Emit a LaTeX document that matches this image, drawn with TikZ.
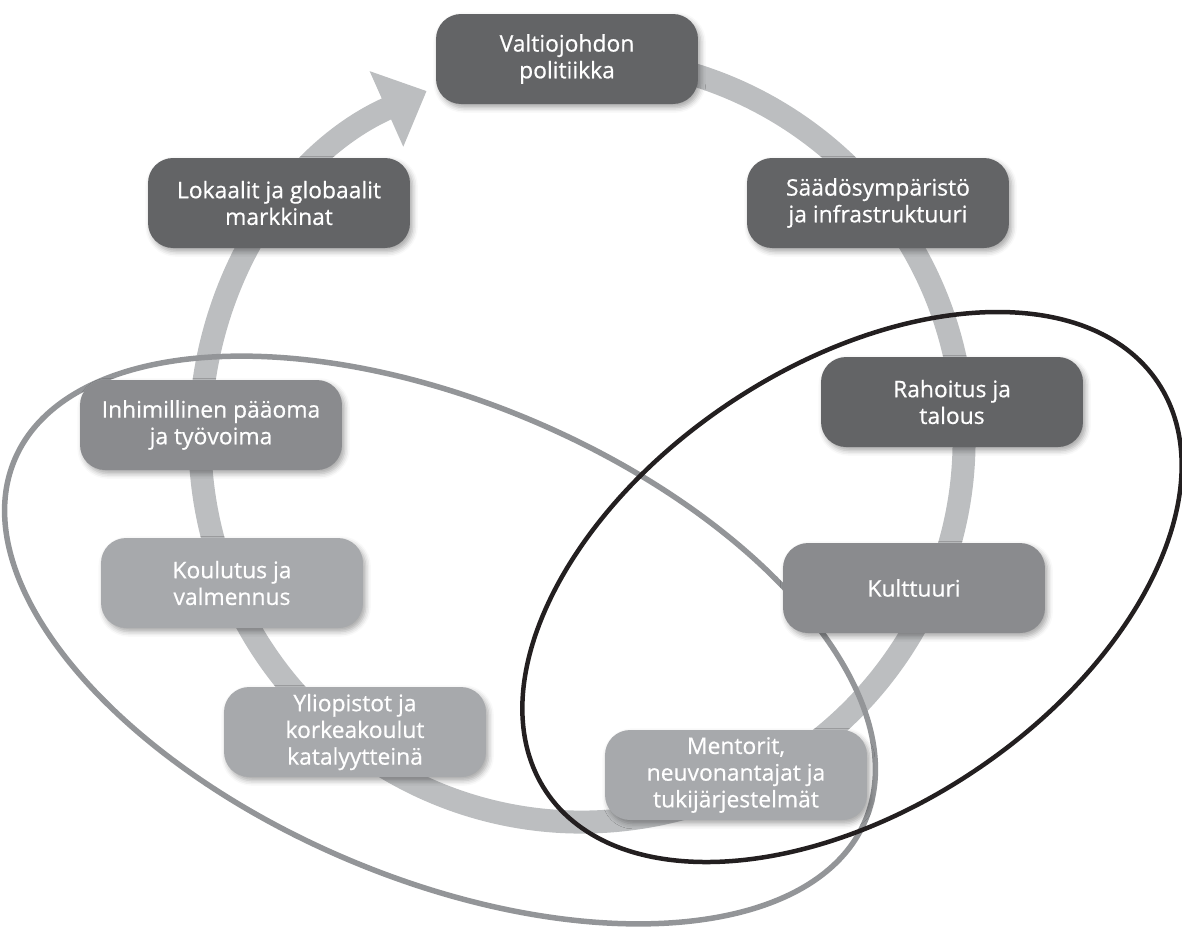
\documentclass[tikz,border=0pt]{standalone}
\usepackage{fontspec}
\setmainfont{Open Sans}[FakeBold=0.6]
\usepackage{tikz}
\usetikzlibrary{arrows.meta,backgrounds,shadows.blur}
\definecolor{boxdark}{HTML}{636466}
\definecolor{boxmid}{HTML}{8A8B8E}
\definecolor{boxlight}{HTML}{A7A9AC}
\definecolor{ringgray}{HTML}{BCBEC0}
\definecolor{loopgray}{HTML}{939598}
\definecolor{loopblack}{HTML}{231F20}
\tikzset{
  factor/.style={
    rectangle, rounded corners=0.5cm, fill=boxdark, text=white,
    minimum width=5.24cm, minimum height=1.8cm, align=center,
    inner sep=2pt, font=\fontsize{13}{15.2}\selectfont,
    blur shadow={shadow xshift=1.5pt, shadow yshift=-2pt,
      shadow blur radius=3pt, shadow opacity=35}
  },
  factormid/.style={factor, fill=boxmid},
  factorlight/.style={factor, fill=boxlight},
  ringline/.style={line width=0.46cm, color=ringgray,
    -{Triangle[length=0.88cm, width=1.6cm]}},
  loopline/.style={line width=0.11cm, color=loopgray},
}

\begin{document}
\begin{tikzpicture}[x=0.02cm, y=-0.02cm]
  \useasboundingbox (0,0) rectangle (1182,931);

  \node[factor] (valtio) at (567,59) {Valtiojohdon\\politiikka};
  \node[factor] (markkina) at (279,203) {Lokaalit ja globaalit\\markkinat};
  \node[factor] (saados) at (878,203) {Säädösympäristö\\ja infrastruktuuri};
  \node[factor] (rahoitus) at (952,402) {Rahoitus ja\\talous};
  \node[factormid] (paaoma) at (211,425) {Inhimillinen pääoma\\ja työvoima};
  \node[factorlight] (koulutus) at (232,583) {Koulutus ja\\valmennus};
  \node[factormid] (kulttuuri) at (914,588) {Kulttuuri};
  \node[factorlight] (yliopisto) at (355,732) {Yliopistot ja\\korkeakoulut\\katalyytteinä};
  \node[factorlight] (mentorit) at (736,775) {Mentorit,\\neuvonantajat ja\\tukijärjestelmät};

  % kehä ja silmukat taustalle
  \begin{scope}[on background layer]
    \coordinate (keskus) at (582,440);
    \draw[ringline] (keskus) ++(-100:382) arc[start angle=-100, end angle=246, radius=382];
    \draw[loopline] (440,640) ellipse[x radius=462, y radius=238, rotate=-23];
    \draw[loopline, color=loopblack, line width=0.09cm] (852,587) ellipse[x radius=368, y radius=221, rotate=33.8];
  \end{scope}
\end{tikzpicture}
\end{document}
